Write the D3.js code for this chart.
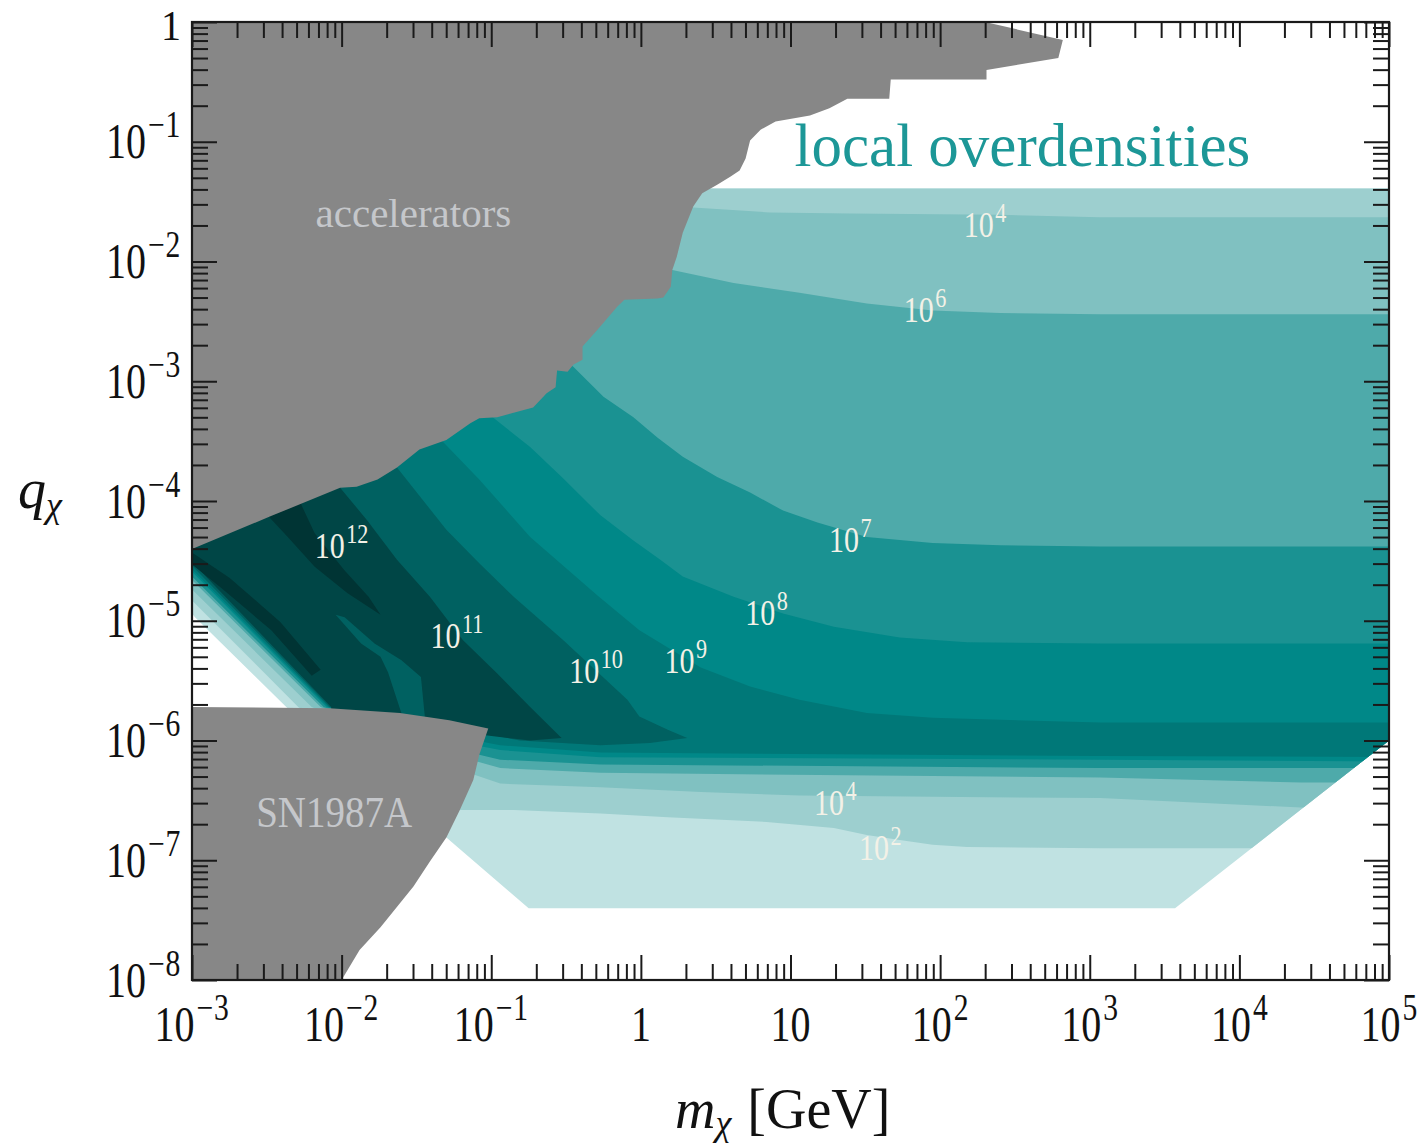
<!DOCTYPE html>
<html>
<head>
<meta charset="utf-8">
<script src="https://cdn.jsdelivr.net/npm/d3@7"></script>
<style>
body { margin: 0; background: #fff; }
text { font-family: "Liberation Serif", "DejaVu Serif", serif; }
</style>
</head>
<body>
<svg id="chart" width="1425" height="1144"></svg>
<script>
// All contour data are [log10(m / GeV), log10(q)].
// outer edge of the computed region (lowest shaded level)
const domainEdge = [[-3.00,-4.94],[-3.00,-3.57],[-0.27,-1.90],[0.43,-1.39],[5.00,-1.39],[5.00,-6.00],
  [3.57,-7.40],[-0.75,-7.40],[-1.30,-6.81],[-2.37,-5.72],[-2.98,-4.97]];

// overdensity > 10^2
const band1e2 = [[-3.6,-0.65],[5.7,-0.65],[5.7,-6.90],[3.07,-6.90],[2.18,-6.89],[1.95,-6.87],[1.73,-6.83],
  [1.51,-6.79],[1.29,-6.73],[0.84,-6.68],[0.18,-6.64],[-0.27,-6.61],[-0.85,-6.58],[-1.28,-6.58],
  [-1.48,-6.41],[-2.29,-5.72],[-3.00,-4.83],[-3.6,-4.83]];

// > 10^4
const band1e4 = [[-3.6,-1.07],[0.26,-1.49],[0.35,-1.55],[0.86,-1.59],[1.40,-1.60],[2.40,-1.61],[3.07,-1.63],
  [5.7,-1.63],[5.7,-6.56],[4.41,-6.56],[3.07,-6.48],[1.95,-6.47],[1.06,-6.46],[0.40,-6.43],[-0.27,-6.39],
  [-0.94,-6.36],[-1.41,-6.16],[-2.20,-5.72],[-3.00,-4.74],[-3.6,-4.74]];

// > 10^6
const band1e6 = [[-3.6,-1.49],[-0.01,-1.95],[0.21,-2.07],[0.62,-2.18],[1.06,-2.26],[1.51,-2.35],[1.95,-2.41],
  [2.40,-2.43],[3.07,-2.44],[5.7,-2.44],[5.7,-6.35],[4.41,-6.35],[3.07,-6.31],[-0.27,-6.27],[-0.94,-6.23],
  [-1.48,-6.04],[-2.14,-5.72],[-3.00,-4.66],[-3.6,-4.66]];

// > 10^7
const band1e7 = [[-3.6,-2.32],[-0.67,-2.66],[-0.54,-2.78],[-0.45,-2.88],[-0.25,-3.13],[-0.05,-3.30],[0.11,-3.47],
  [0.28,-3.63],[0.51,-3.80],[0.73,-3.93],[0.95,-4.08],[1.18,-4.18],[1.51,-4.30],[1.95,-4.35],[2.40,-4.37],
  [3.07,-4.38],[5.7,-4.38],[5.7,-6.23],[3.07,-6.23],[-0.27,-6.20],[-0.94,-6.16],[-1.48,-6.00],[-2.12,-5.72],
  [-3.00,-4.63],[-3.6,-4.63]];

// > 10^8
const band1e8 = [[-3.6,-2.99],[-1.14,-3.16],[-0.99,-3.30],[-0.74,-3.55],[-0.52,-3.81],[-0.27,-4.12],[-0.05,-4.33],
  [0.13,-4.49],[0.28,-4.63],[0.62,-4.80],[0.95,-4.94],[1.29,-5.05],[1.73,-5.14],[2.18,-5.18],[3.07,-5.19],
  [5.7,-5.19],[5.7,-6.18],[3.07,-6.16],[-0.27,-6.14],[-0.94,-6.08],[-1.48,-5.95],[-2.10,-5.72],[-3.00,-4.59],
  [-3.6,-4.59]];

// > 10^9
const band1e9 = [[-3.6,-3.24],[-1.48,-3.32],[-1.32,-3.51],[-1.08,-3.82],[-0.74,-4.30],[-0.29,-4.79],[-0.01,-5.08],
  [0.40,-5.39],[0.73,-5.55],[1.06,-5.66],[1.51,-5.77],[1.95,-5.81],[3.07,-5.85],[5.7,-5.85],[5.7,-6.14],
  [3.07,-6.13],[-0.27,-6.10],[-0.94,-6.04],[-1.48,-5.91],[-2.09,-5.72],[-3.00,-4.57],[-3.6,-4.57]];

// > 10^10
const band1e10 = [[-3.6,-3.32],[-1.74,-3.49],[-1.63,-3.72],[-1.30,-4.24],[-1.08,-4.52],[-0.85,-4.80],[-0.52,-5.16],
  [-0.27,-5.45],[-0.09,-5.66],[-0.01,-5.80],[0.18,-5.91],[0.31,-5.98],[0.06,-6.02],[-0.27,-6.04],[-0.81,-6.00],
  [-1.01,-5.95],[-1.61,-5.87],[-2.08,-5.72],[-3.00,-4.54],[-3.6,-4.54]];

// > 10^11
const band1e11 = [[-3.6,-3.41],[-2.14,-3.74],[-2.01,-3.89],[-1.83,-4.16],[-1.63,-4.49],[-1.41,-4.80],[-1.19,-5.16],
  [-0.96,-5.44],[-0.74,-5.72],[-0.53,-5.98],[-0.74,-6.00],[-1.08,-5.95],[-1.44,-5.85],[-1.47,-5.47],[-1.60,-5.33],
  [-1.78,-5.19],[-1.98,-4.97],[-2.04,-4.95],[-1.87,-5.19],[-1.74,-5.30],[-1.69,-5.43],[-1.58,-5.85],[-2.07,-5.76],
  [-2.07,-5.72],[-3.00,-4.51],[-3.6,-4.51]];

// > 10^12 (wedge and the thin strip along the lower edge)
const band1e12 = [[-2.55,-3.99],[-2.21,-3.82],[-2.27,-4.03],[-2.18,-4.27],[-1.98,-4.58],[-1.82,-4.80],[-1.74,-4.95],
  [-1.96,-4.77],[-2.18,-4.55],[-2.36,-4.30],[-2.48,-4.14]];
const band1e12Strip = [[-3.00,-4.43],[-2.75,-4.64],[-2.41,-5.01],[-2.14,-5.41],[-2.20,-5.46],[-2.47,-5.08],
  [-2.80,-4.73],[-3.00,-4.53]];

// excluded regions
const acceleratorsEdge = [[-3.00,0.00],[2.30,0.00],[2.82,-0.15],[2.79,-0.30],[2.31,-0.40],[2.31,-0.48],[1.67,-0.48],
  [1.66,-0.64],[1.38,-0.64],[1.26,-0.72],[1.13,-0.78],[0.90,-0.83],[0.80,-0.90],[0.73,-0.99],[0.70,-1.14],
  [0.66,-1.24],[0.60,-1.29],[0.51,-1.36],[0.41,-1.43],[0.35,-1.54],[0.28,-1.76],[0.24,-1.96],[0.21,-2.07],
  [0.20,-2.21],[0.15,-2.30],[0.11,-2.31],[-0.11,-2.32],[-0.16,-2.38],[-0.29,-2.57],[-0.39,-2.71],[-0.39,-2.82],
  [-0.45,-2.86],[-0.49,-2.92],[-0.56,-2.91],[-0.57,-3.05],[-0.63,-3.10],[-0.72,-3.22],[-0.96,-3.30],[-1.08,-3.31],
  [-1.14,-3.35],[-1.30,-3.49],[-1.48,-3.57],[-1.63,-3.72],[-1.76,-3.82],[-1.90,-3.88],[-2.01,-3.89],[-2.48,-4.13],
  [-3.00,-4.40]];
const sn1987aEdge = [[-3.00,-5.72],[-2.08,-5.73],[-1.61,-5.77],[-1.28,-5.83],[-1.02,-5.90],[-1.08,-6.12],
  [-1.12,-6.33],[-1.21,-6.58],[-1.30,-6.81],[-1.41,-7.01],[-1.52,-7.22],[-1.74,-7.56],[-1.88,-7.75],[-1.99,-7.98],
  [-1.99,-8.00],[-3.00,-8.00]];

const bands = [band1e2, band1e4, band1e6, band1e7, band1e8, band1e9, band1e10, band1e11, band1e12, band1e12Strip];
const bandColors = ["#9dcfcf", "#80c1c1", "#4eaaaa", "#1a9292", "#008888", "#007878", "#006161", "#004646", "#003434", "#003434"];

// contour labels: exponent of 10 and position [log10 m, log10 q]
const contourExps = [4, 6, 7, 8, 9, 10, 11, 12, 4, 2];
const contourAt = [[2.30,-1.70],[1.90,-2.41],[1.40,-4.33],[0.84,-4.94],[0.30,-5.34],[-0.30,-5.42],[-1.23,-5.13],
  [-2.00,-4.38],[1.30,-6.52],[1.60,-6.90]];

const xTickExps = [-3, -2, -1, 0, 1, 2, 3, 4, 5];
const yTickExps = [0, -1, -2, -3, -4, -5, -6, -7, -8];

const svg = d3.select("#chart");
const x = d3.scaleLog().domain([1e-3, 1e5]).range([192, 1389]);
const y = d3.scaleLog().domain([1e-8, 1]).range([980, 22]);

const area = d3.line().x(d => x(10 ** d[0])).y(d => y(10 ** d[1]));

svg.append("defs").append("clipPath").attr("id", "dom")
  .append("path").attr("d", area(domainEdge) + "Z");

// lowest level fills the whole computed region
svg.append("path").attr("d", area(domainEdge) + "Z").attr("fill", "#c0e2e2");

const g = svg.append("g").attr("clip-path", "url(#dom)");
g.selectAll("path.band").data(bands).enter().append("path")
  .attr("class", "band")
  .attr("d", d => area(d) + "Z")
  .attr("fill", (d, i) => bandColors[i]);

// excluded regions on top
svg.append("path").attr("d", area(acceleratorsEdge) + "Z").attr("fill", "#878787");
svg.append("path").attr("d", area(sn1987aEdge) + "Z").attr("fill", "#878787");

// 10^n label, stretched a bit vertically like the original
function powText(parent, px, py, exp, fs, color, anchor, stretch) {
  const gg = parent.append("g").attr("transform", `translate(${px},${py}) scale(1,${stretch})`);
  const t = gg.append("text")
    .attr("text-anchor", anchor)
    .attr("y", fs * 0.33)
    .attr("fill", color)
    .attr("font-size", fs);
  if (exp === 0) { t.text("1"); return t; }
  if (exp === 1) { t.text("10"); return t; }
  t.append("tspan").text("10");
  t.append("tspan").attr("dy", -fs * 0.42).attr("dx", fs * 0.05).attr("font-size", fs * 0.74)
    .attr("letter-spacing", exp < 0 ? fs * 0.02 : 0)
    .text(exp < 0 ? "\u2212" + (-exp) : String(exp));
  return t;
}

const labels = svg.append("g");
contourExps.forEach((e, i) => {
  powText(labels, x(10 ** contourAt[i][0]), y(10 ** contourAt[i][1]), e, 30, "#f3f1e7", "middle", 1.2);
});

svg.append("text")
  .attr("x", x(10 ** -1.52)).attr("y", y(10 ** -1.60) + 13)
  .attr("text-anchor", "middle").attr("font-size", 41).attr("fill", "#c5c7cb")
  .text("accelerators");
svg.append("g").attr("transform", `translate(${x(10 ** -2.05)},${y(10 ** -6.59) + 16}) scale(1,1.15)`)
  .append("text").attr("text-anchor", "middle").attr("font-size", 39).attr("fill", "#c5c7cb")
  .text("SN1987A");
svg.append("text")
  .attr("x", x(10 ** 2.55)).attr("y", y(10 ** -1.05) + 18)
  .attr("text-anchor", "middle").attr("font-size", 61).attr("fill", "#1c9797")
  .text("local overdensities");

// axes, ticks inward on all four sides
const xMajor = xTickExps.map(e => 10 ** e);
const yMajor = yTickExps.map(e => 10 ** e);
const xMinor = x.ticks().filter(v => !xMajor.some(m => Math.abs(v / m - 1) < 1e-6));
const yMinor = y.ticks().filter(v => !yMajor.some(m => Math.abs(v / m - 1) < 1e-6));

function addAxis(axis, tf) {
  const a = svg.append("g").attr("transform", tf).call(axis);
  a.select(".domain").remove();
  a.selectAll("text").remove();
  a.selectAll("line").attr("stroke", "#1a1a1a").attr("stroke-width", 2);
}
addAxis(d3.axisBottom(x).tickValues(xMajor).tickSize(-25).tickSizeOuter(0), "translate(0,980)");
addAxis(d3.axisBottom(x).tickValues(xMinor).tickSize(-16).tickSizeOuter(0), "translate(0,980)");
addAxis(d3.axisTop(x).tickValues(xMajor).tickSize(-25).tickSizeOuter(0), "translate(0,22)");
addAxis(d3.axisTop(x).tickValues(xMinor).tickSize(-16).tickSizeOuter(0), "translate(0,22)");
addAxis(d3.axisLeft(y).tickValues(yMajor).tickSize(-25).tickSizeOuter(0), "translate(192,0)");
addAxis(d3.axisLeft(y).tickValues(yMinor).tickSize(-16).tickSizeOuter(0), "translate(192,0)");
addAxis(d3.axisRight(y).tickValues(yMajor).tickSize(-25).tickSizeOuter(0), "translate(1389,0)");
addAxis(d3.axisRight(y).tickValues(yMinor).tickSize(-16).tickSizeOuter(0), "translate(1389,0)");

svg.append("rect").attr("x", 192).attr("y", 22).attr("width", 1197).attr("height", 958)
  .attr("fill", "none").attr("stroke", "#1a1a1a").attr("stroke-width", 2.2);

// tick labels (the top "1" is kept a little lower so it stays inside the page)
const tl = svg.append("g");
xTickExps.forEach(e => powText(tl, x(10 ** e), 1024, e, 40, "#111", "middle", 1.25));
yTickExps.forEach(e => {
  if (e === 0) powText(tl, 181, y(10 ** e) + 4, e, 40, "#111", "end", 1.05);
  else powText(tl, 181, y(10 ** e), e, 40, "#111", "end", 1.25);
});

// axis titles
const yt = svg.append("text").attr("x", 18).attr("y", 508).attr("font-size", 56).attr("fill", "#111");
yt.append("tspan").attr("font-style", "italic").text("q");
yt.append("tspan").attr("font-style", "italic").attr("font-size", 36).attr("dy", 9).text("\u03c7");

const xt = svg.append("text").attr("x", 675).attr("y", 1128).attr("font-size", 56).attr("fill", "#111");
xt.append("tspan").attr("font-style", "italic").text("m");
xt.append("tspan").attr("font-style", "italic").attr("font-size", 36).attr("dy", 7).text("\u03c7");
xt.append("tspan").attr("dy", -7).attr("dx", 16).text("[GeV]");
</script>
</body>
</html>
